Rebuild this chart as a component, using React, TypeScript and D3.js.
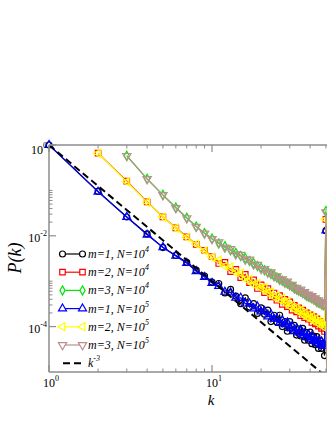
import React from 'react';
import * as d3 from 'd3';

// degree k runs 1..51 ; series start at k = m
const kStartM1 = 1;
const kStartM2 = 2;
const kStartM3 = 3;

// P(k) values (last point of every series drops to ~0, below the axis)
const pM1N4 = [1.0, 9.5e-2, 2.6e-2, 1.1e-2, 5.5e-3, 3.7e-3, 2.6e-3, 1.75e-3, 1.3e-3, 9.6e-4,
  8.9e-4, 5.5e-4, 6.6e-4, 4.7e-4, 3.2e-4, 4.3e-4, 2.7e-4, 3.2e-4, 1.95e-4, 2.6e-4,
  1.86e-4, 2.3e-4, 1.29e-4, 1.78e-4, 1.26e-4, 1.78e-4, 1.0e-4, 1.29e-4, 7.9e-5, 1.29e-4,
  8.3e-5, 1.07e-4, 6.5e-5, 8.9e-5, 6.2e-5, 9.1e-5, 5.0e-5, 7.4e-5, 5.0e-5, 7.6e-5,
  4.2e-5, 6.2e-5, 4.0e-5, 6.0e-5, 3.3e-5, 4.9e-5, 3.3e-5, 4.2e-5, 2.3e-5, 1.3e-2, 1e-8];
const pM2N4 = [0.66, 0.16, 5.6e-2, 2.6e-2, 1.5e-2, 9.5e-3, 6.5e-3, 4.8e-3, 3.5e-3,
  2.45e-3, 2.6e-3, 1.62e-3, 1.82e-3, 1.20e-3, 1.41e-3, 9.3e-4, 1.07e-3, 6.9e-4, 8.3e-4,
  5.6e-4, 6.9e-4, 4.5e-4, 5.5e-4, 3.8e-4, 4.8e-4, 3.1e-4, 4.0e-4, 2.75e-4, 3.5e-4,
  2.3e-4, 2.95e-4, 2.1e-4, 2.6e-4, 1.74e-4, 2.3e-4, 1.58e-4, 2.0e-4, 1.45e-4, 1.82e-4,
  1.23e-4, 1.66e-4, 1.15e-4, 1.48e-4, 1.02e-4, 1.29e-4, 9.1e-5, 1.15e-4, 7.8e-5, 2.3e-2, 1e-8];
const pM3N4 = [0.58, 0.18, 8.0e-2, 4.2e-2, 2.5e-2, 1.6e-2, 1.15e-2, 8.7e-3,
  6.8e-3, 5.9e-3, 4.8e-3, 4.2e-3, 3.6e-3, 3.2e-3, 2.8e-3, 2.5e-3, 2.15e-3, 1.98e-3,
  1.75e-3, 1.62e-3, 1.45e-3, 1.36e-3, 1.21e-3, 1.13e-3, 1.02e-3, 9.6e-4, 8.9e-4, 8.4e-4,
  7.6e-4, 7.2e-4, 6.6e-4, 6.3e-4, 5.9e-4, 5.6e-4, 5.2e-4, 5.0e-4, 4.6e-4, 4.5e-4,
  4.2e-4, 4.1e-4, 3.8e-4, 3.7e-4, 3.4e-4, 3.4e-4, 3.1e-4, 3.1e-4, 2.8e-4, 3.5e-2, 1e-8];
const pM1N5 = [1.0, 9.3e-2, 2.6e-2, 1.05e-2, 5.6e-3, 3.6e-3, 2.5e-3, 1.66e-3, 1.23e-3, 9.1e-4,
  7.8e-4, 5.8e-4, 5.6e-4, 4.3e-4, 4.3e-4, 3.2e-4, 3.2e-4, 2.5e-4, 2.75e-4, 2.14e-4,
  2.19e-4, 1.66e-4, 1.86e-4, 1.48e-4, 1.51e-4, 1.20e-4, 1.38e-4, 1.12e-4, 1.23e-4, 9.3e-5,
  1.02e-4, 7.9e-5, 8.9e-5, 7.4e-5, 8.5e-5, 6.5e-5, 7.1e-5, 5.8e-5, 6.6e-5, 5.4e-5,
  6.2e-5, 4.8e-5, 5.2e-5, 4.3e-5, 4.9e-5, 4.0e-5, 4.7e-5, 3.7e-5, 4.0e-5, 1.3e-2, 1e-8];
const pM2N5 = [0.66, 0.155, 5.5e-2, 2.6e-2, 1.48e-2, 9.3e-3, 6.6e-3, 4.7e-3, 3.4e-3,
  2.9e-3, 2.14e-3, 2.04e-3, 1.55e-3, 1.51e-3, 1.12e-3, 1.10e-3, 8.5e-4, 8.9e-4, 7.1e-4,
  7.2e-4, 5.6e-4, 5.8e-4, 4.5e-4, 4.8e-4, 3.9e-4, 4.2e-4, 3.4e-4, 3.5e-4, 2.8e-4,
  3.0e-4, 2.4e-4, 2.6e-4, 2.14e-4, 2.3e-4, 1.9e-4, 2.0e-4, 1.62e-4, 1.82e-4, 1.55e-4,
  1.66e-4, 1.35e-4, 1.48e-4, 1.20e-4, 1.32e-4, 1.12e-4, 1.23e-4, 1.0e-4, 1.07e-4, 2.3e-2, 1e-8];
const pM3N5 = [0.575, 0.178, 7.9e-2, 4.1e-2, 2.45e-2, 1.58e-2, 1.12e-2, 8.5e-3,
  7.2e-3, 5.5e-3, 5.1e-3, 3.9e-3, 3.8e-3, 3.0e-3, 3.0e-3, 2.34e-3, 2.3e-3, 1.86e-3,
  1.86e-3, 1.55e-3, 1.58e-3, 1.29e-3, 1.29e-3, 1.07e-3, 1.10e-3, 9.3e-4, 9.8e-4, 8.1e-4,
  8.3e-4, 6.9e-4, 7.2e-4, 6.2e-4, 6.6e-4, 5.5e-4, 5.8e-4, 4.8e-4, 5.1e-4, 4.5e-4,
  4.7e-4, 4.0e-4, 4.2e-4, 3.5e-4, 3.8e-4, 3.3e-4, 3.5e-4, 3.0e-4, 3.1e-4, 3.3e-2, 1e-8];

// reference power law k^-3
const refK = [1, 50];
const refP = [1, 8e-6];

const xTickMajor = [1, 10, 100];
const yTickMajor = [1, 1e-2, 1e-4];
const xTickLabels = ['0', '1'];
const yTickLabels = ['0', '-2', '-4'];

const W = 327, H = 423;
const L = 49, R = 375, T = 145, B = 372;
const FONT = '"Liberation Serif", "Times New Roman", serif';

type S = { name: string; sup: string; color: string; sym: any; rot: number; size: number; start: number; vals: number[] };
const series: S[] = [
  { name: 'm=1, N=10', sup: '4', color: '#000000', sym: d3.symbolCircle, rot: 0, size: 28, start: kStartM1, vals: pM1N4 },
  { name: 'm=2, N=10', sup: '4', color: '#ff0000', sym: d3.symbolSquare, rot: 0, size: 30, start: kStartM2, vals: pM2N4 },
  { name: 'm=3, N=10', sup: '4', color: '#00e600', sym: d3.symbolDiamond, rot: 0, size: 24, start: kStartM3, vals: pM3N4 },
  { name: 'm=1, N=10', sup: '5', color: '#0000ff', sym: d3.symbolTriangle, rot: 0, size: 28, start: kStartM1, vals: pM1N5 },
  { name: 'm=2, N=10', sup: '5', color: '#ffff00', sym: d3.symbolTriangle, rot: -90, size: 28, start: kStartM2, vals: pM2N5 },
  { name: 'm=3, N=10', sup: '5', color: '#bc8f8f', sym: d3.symbolTriangle, rot: 180, size: 30, start: kStartM3, vals: pM3N5 },
];

export default function App() {
  const x = d3.scaleLog().domain([1, 100]).range([L, R]);
  const y = d3.scaleLog().domain([1e-5, 1]).range([B, T]);
  const line = d3.line<[number, number]>().x(d => x(d[0])).y(d => y(d[1]));

  const xMinor: number[] = [];
  [1, 10].forEach(d => { for (let i = 2; i <= 9; i++) xMinor.push(i * d); });
  const yMinor: number[] = [];
  [1e-2, 1e-4, 1e-6].forEach(d => { for (let i = 2; i <= 10; i++) { const v = i * d; if (v >= 1e-5 && v <= 1) yMinor.push(v); } });

  const axisColor = '#8c8c8c';
  const legendY0 = 254, legendDy = 18.2;

  return (
    <svg width={W} height={H} style={{ position: 'absolute', left: 0, top: 0, background: '#fff' }} fontFamily={FONT}>
      <defs>
        <clipPath id="plotclip"><rect x={L} y={T} width={R - L} height={B - T} /></clipPath>
      </defs>
      <rect x={0} y={0} width={W} height={H} fill="#fff" />

      {/* data */}
      {series.map((s, si) => {
        const pts: [number, number][] = s.vals.map((v, i) => [s.start + i, v]);
        const path = d3.symbol().type(s.sym).size(s.size)() as string;
        return (
          <g key={si}>
            <path d={line(pts) as string} fill="none" stroke={s.color} strokeWidth={1.2} clipPath="url(#plotclip)" />
            {pts.filter(p => p[1] >= 1e-5).map((p, i) => (
              <path key={i} d={path} transform={`translate(${x(p[0])},${y(p[1])}) rotate(${s.rot})`} fill="none" stroke={s.color} strokeWidth={1.2} />
            ))}
          </g>
        );
      })}
      <path d={line(refK.map((k, i) => [k, refP[i]] as [number, number])) as string} fill="none" stroke="#000" strokeWidth={2} strokeDasharray="7,4" clipPath="url(#plotclip)" />

      {/* axes frame */}
      <line x1={L} y1={T} x2={L} y2={B} stroke={axisColor} strokeWidth={1.5} />
      <line x1={L} y1={B} x2={R} y2={B} stroke={axisColor} strokeWidth={1.5} />
      <line x1={L} y1={T} x2={R} y2={T} stroke={axisColor} strokeWidth={1.5} />
      <line x1={R} y1={T} x2={R} y2={B} stroke={axisColor} strokeWidth={1.5} />

      {/* x ticks */}
      {xTickMajor.map((v, i) => (
        <g key={'xm' + i}>
          <line x1={x(v)} x2={x(v)} y1={B} y2={B - 7} stroke={axisColor} strokeWidth={1.2} />
          <line x1={x(v)} x2={x(v)} y1={T} y2={T + 7} stroke={axisColor} strokeWidth={1.2} />
        </g>
      ))}
      {xMinor.map((v, i) => (
        <g key={'xn' + i}>
          <line x1={x(v)} x2={x(v)} y1={B} y2={B - 3.5} stroke={axisColor} strokeWidth={1} />
          <line x1={x(v)} x2={x(v)} y1={T} y2={T + 3.5} stroke={axisColor} strokeWidth={1} />
        </g>
      ))}
      {xTickLabels.map((lab, i) => (
        <text key={'xl' + i} x={x(xTickMajor[i]) + 2} y={387} fontSize={12} textAnchor="middle" fill="#000">
          10<tspan dy={-6} fontSize={8}>{lab}</tspan>
        </text>
      ))}

      {/* y ticks */}
      {yTickMajor.map((v, i) => (
        <line key={'ym' + i} x1={L} x2={L + 7} y1={y(v)} y2={y(v)} stroke={axisColor} strokeWidth={1.2} />
      ))}
      {yMinor.map((v, i) => (
        <line key={'yn' + i} x1={L} x2={L + 3.5} y1={y(v)} y2={y(v)} stroke={axisColor} strokeWidth={1} />
      ))}
      {yTickLabels.map((lab, i) => (
        <text key={'yl' + i} x={47} y={y(yTickMajor[i]) + (i === 0 ? 9 : 6.5)} fontSize={12} textAnchor="end" fill="#000">
          10<tspan dy={-6} fontSize={8}>{lab}</tspan>
        </text>
      ))}

      {/* axis titles */}
      <text transform={`translate(21,258) rotate(-90)`} fontSize={18} fontStyle="italic" textAnchor="middle" fill="#000">P(k)</text>
      <text x={211} y={405} fontSize={15} fontStyle="italic" textAnchor="middle" fill="#000">k</text>

      {/* legend */}
      {series.map((s, i) => {
        const ly = legendY0 + i * legendDy;
        const path = d3.symbol().type(s.sym).size(s.size)() as string;
        return (
          <g key={'lg' + i}>
            <line x1={62.5} x2={82.5} y1={ly} y2={ly} stroke={s.color} strokeWidth={1.2} />
            <path d={path} transform={`translate(62.5,${ly}) rotate(${s.rot})`} fill="#fff" stroke={s.color} strokeWidth={1.2} />
            <path d={path} transform={`translate(82.5,${ly}) rotate(${s.rot})`} fill="#fff" stroke={s.color} strokeWidth={1.2} />
            <text x={88} y={ly + 4} fontSize={12} fontStyle="italic" fill="#000">
              {s.name}<tspan dy={-6} fontSize={8}>{s.sup}</tspan>
            </text>
          </g>
        );
      })}
      <g>
        <line x1={63} x2={82} y1={legendY0 + 6 * legendDy} y2={legendY0 + 6 * legendDy} stroke="#000" strokeWidth={2} strokeDasharray="7,4" />
        <text x={88} y={legendY0 + 6 * legendDy + 4} fontSize={12} fontStyle="italic" fill="#000">
          k<tspan dy={-6} fontSize={8}>-3</tspan>
        </text>
      </g>
    </svg>
  );
}
